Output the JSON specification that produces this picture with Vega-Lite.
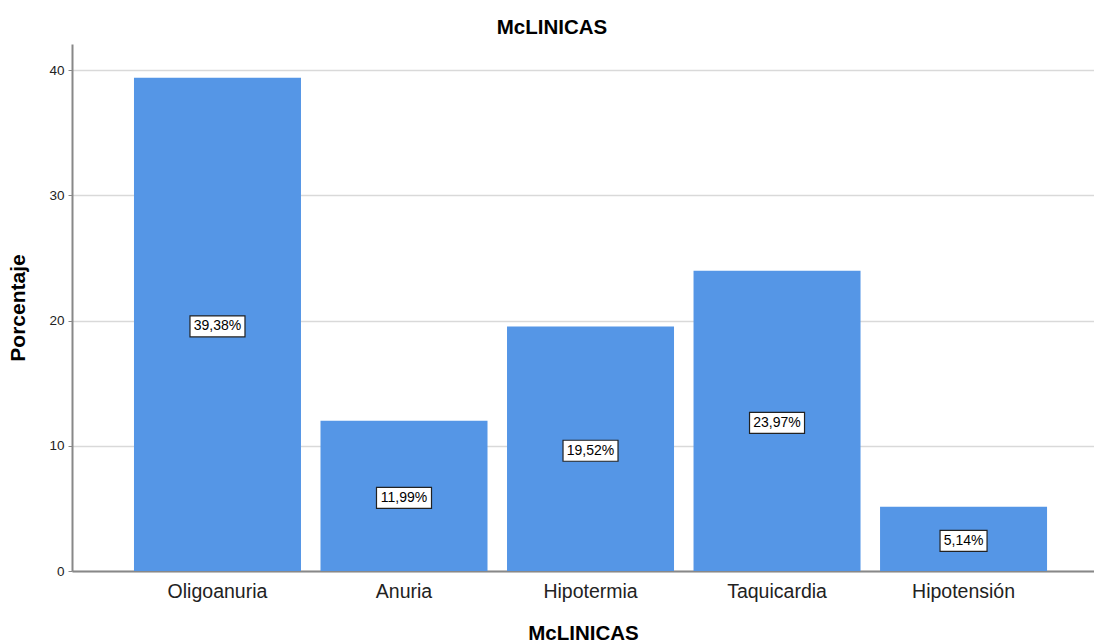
{
  "$schema": "https://vega.github.io/schema/vega-lite/v6.json",
  "width": 1022,
  "height": 527,
  "autosize": {"type": "none"},
  "padding": {"left": 72, "top": 44, "right": 0, "bottom": 72},
  "background": "white",
  "title": {
    "text": "McLINICAS",
    "font": "Liberation Sans",
    "fontSize": 20.5,
    "fontWeight": "bold",
    "color": "#000000",
    "anchor": "middle",
    "dx": -31,
    "offset": 6
  },
  "data": {
    "values": [
      {"sintoma": "Oligoanuria", "porcentaje": 39.38},
      {"sintoma": "Anuria", "porcentaje": 11.99},
      {"sintoma": "Hipotermia", "porcentaje": 19.52},
      {"sintoma": "Taquicardia", "porcentaje": 23.97},
      {"sintoma": "Hipotensión", "porcentaje": 5.14}
    ]
  },
  "encoding": {
    "x": {
      "field": "sintoma",
      "type": "nominal",
      "sort": null,
      "scale": {"paddingInner": 0.1046, "paddingOuter": 0.292, "align": 0.569},
      "axis": {
        "title": "McLINICAS",
        "titleFont": "Liberation Sans",
        "titleFontSize": 20.5,
        "titleFontWeight": "bold",
        "titleColor": "#000000",
        "titlePadding": 23,
        "labelAngle": 0,
        "labelFont": "Liberation Sans",
        "labelFontSize": 19.5,
        "labelColor": "#222222",
        "labelPadding": 11,
        "ticks": false,
        "domainColor": "#888888",
        "domainWidth": 2,
        "grid": false
      }
    }
  },
  "layer": [
    {
      "mark": {"type": "bar", "color": "#5596E6"},
      "encoding": {
        "y": {
          "field": "porcentaje",
          "type": "quantitative",
          "scale": {"domain": [0, 42.08], "nice": false},
          "axis": {
            "title": "Porcentaje",
            "titleFont": "Liberation Sans",
            "titleFontSize": 21,
            "titleFontWeight": "bold",
            "titleColor": "#000000",
            "titleX": -54,
            "titleY": 263.5,
            "titleAlign": "center",
            "titleBaseline": "middle",
            "values": [0, 10, 20, 30, 40],
            "labelFont": "Liberation Sans",
            "labelFontSize": 13.5,
            "labelColor": "#222222",
            "labelPadding": 4,
            "tickSize": 4,
            "tickColor": "#888888",
            "domainColor": "#888888",
            "domainWidth": 2,
            "gridColor": "#d9d9d9",
            "gridWidth": 1.5
          }
        }
      }
    },
    {
      "mark": {
        "type": "rect",
        "fill": "white",
        "stroke": "#222222",
        "strokeWidth": 1.2,
        "height": 21,
        "width": {"expr": "length(format(datum.porcentaje, '.2f')) * 8 + 15"}
      },
      "encoding": {
        "y": {
          "field": "porcentaje",
          "type": "quantitative",
          "scale": {"domain": [0, 84.16], "nice": false},
          "axis": null
        },
        "yOffset": {"value": 2}
      }
    },
    {
      "mark": {
        "type": "text",
        "font": "Liberation Sans",
        "fontSize": 14,
        "color": "#000000",
        "baseline": "middle",
        "align": "center",
        "dy": 2
      },
      "encoding": {
        "y": {
          "field": "porcentaje",
          "type": "quantitative",
          "scale": {"domain": [0, 84.16], "nice": false},
          "axis": null
        },
        "text": {"field": "porcentaje", "type": "quantitative", "format": "$.2f"}
      }
    }
  ],
  "resolve": {"scale": {"y": "independent"}},
  "config": {
    "view": {"stroke": null},
    "locale": {
      "number": {
        "decimal": ",",
        "thousands": ".",
        "grouping": [3],
        "currency": ["", "%"]
      }
    }
  }
}
